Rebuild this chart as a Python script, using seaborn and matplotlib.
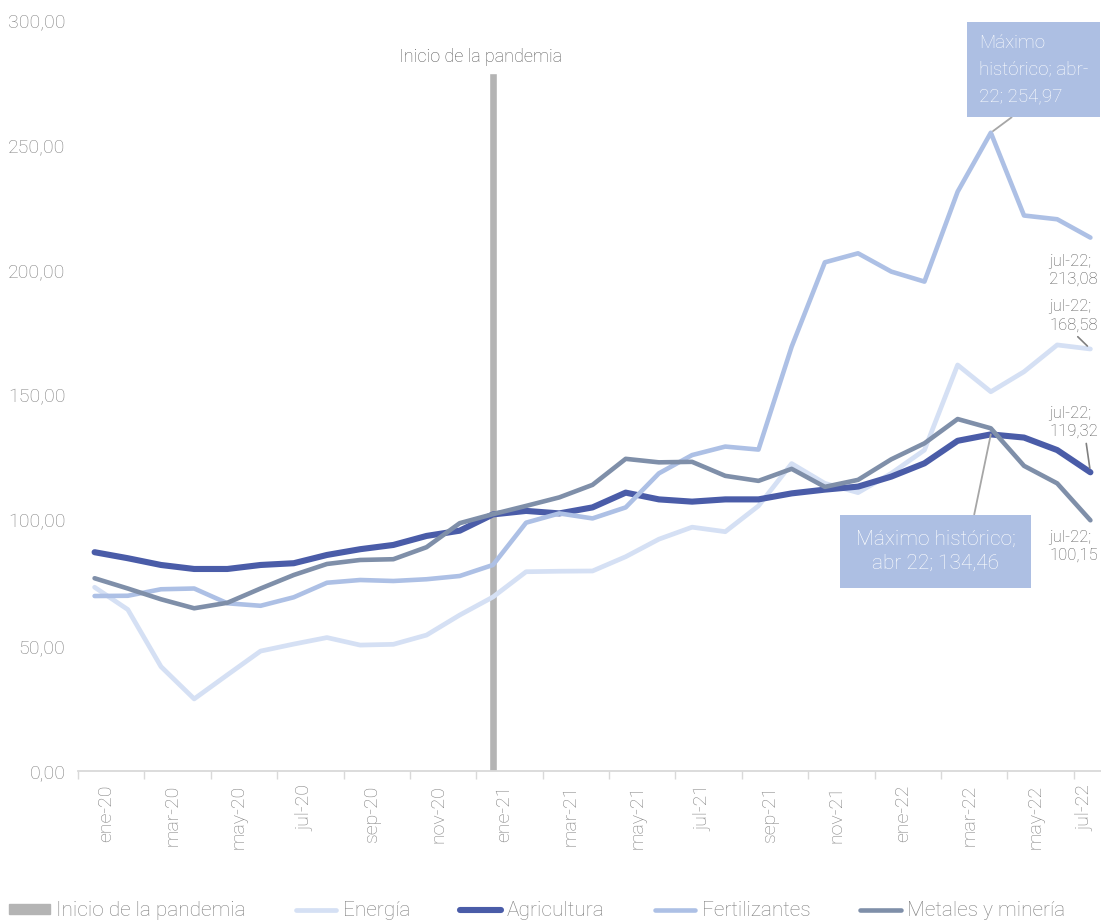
import pandas as pd
import matplotlib.pyplot as plt
import seaborn as sns
from matplotlib.ticker import FuncFormatter, FixedLocator
from matplotlib.patches import Patch

# Monthly index values, ene-20 .. jul-22
months = ['ene-20', 'feb-20', 'mar-20', 'abr-20', 'may-20', 'jun-20', 'jul-20', 'ago-20',
          'sep-20', 'oct-20', 'nov-20', 'dic-20', 'ene-21', 'feb-21', 'mar-21', 'abr-21',
          'may-21', 'jun-21', 'jul-21', 'ago-21', 'sep-21', 'oct-21', 'nov-21', 'dic-21',
          'ene-22', 'feb-22', 'mar-22', 'abr-22', 'may-22', 'jun-22', 'jul-22']

energia = [73.4, 64.5, 41.7, 28.8, 38.4, 47.9, 50.7, 53.3, 50.3, 50.6, 54.3, 62.3,
           69.5, 79.6, 79.8, 79.9, 85.6, 92.6, 97.4, 95.6, 105.9, 122.8, 114.9, 111.2,
           118.9, 128.2, 162.2, 151.5, 159.5, 170.2, 168.58]
agricultura = [87.4, 85.0, 82.3, 80.7, 80.7, 82.3, 83.0, 86.3, 88.6, 90.3, 93.9, 96.0,
               102.5, 103.9, 102.9, 105.3, 111.2, 108.5, 107.6, 108.5, 108.5, 110.9, 112.4, 113.6,
               117.6, 122.9, 131.9, 134.46, 133.2, 128.2, 119.32]
fertilizantes = [69.9, 70.0, 72.6, 72.9, 67.0, 66.0, 69.4, 75.2, 76.3, 75.9, 76.6, 77.9,
                 82.3, 99.2, 102.9, 100.9, 105.3, 118.9, 126.2, 129.6, 128.4, 169.5, 203.2, 206.8,
                 199.5, 195.5, 231.4, 254.97, 221.9, 220.4, 213.08]
metales = [77.0, 72.9, 68.6, 65.0, 67.2, 72.9, 78.3, 82.7, 84.3, 84.6, 89.4, 99.0,
           102.6, 105.9, 109.3, 114.3, 124.7, 123.3, 123.5, 117.9, 115.9, 120.7, 113.5, 116.3,
           124.5, 130.9, 140.6, 136.9, 121.9, 114.9, 100.15]

pandemia_mes = 'ene-21'
pandemia_valor = 279

series = {
    'Energía': energia,
    'Agricultura': agricultura,
    'Fertilizantes': fertilizantes,
    'Metales y minería': metales,
}
colors = {
    'Energía': '#d5e0f4',
    'Agricultura': '#4a5ca8',
    'Fertilizantes': '#adc0e5',
    'Metales y minería': '#7f8fa9',
}
widths = {'Energía': 3.4, 'Agricultura': 4.4, 'Fertilizantes': 3.3, 'Metales y minería': 3.3}

sns.set_theme(style='white')
plt.rcParams['font.family'] = ['Roboto', 'DejaVu Sans']
plt.rcParams['font.weight'] = 'light'

txt_gray = '#7f7f7f'
lbl_gray = '#595959'
box_col = '#adbfe3'

fig = plt.figure(figsize=(11.01, 9.22), dpi=100)
ax = fig.add_axes([78 / 1101, 151 / 922, 1029 / 1101, 751 / 922])

x = list(range(len(months)))
pi = months.index(pandemia_mes)
ax.bar([pi], [pandemia_valor], width=0.23, color='#b4b4b4', zorder=1)

for name, vals in series.items():
    df = pd.DataFrame({'x': x, 'y': vals})
    sns.lineplot(data=df, x='x', y='y', ax=ax, color=colors[name], linewidth=widths[name],
                 solid_capstyle='round', solid_joinstyle='round', zorder=2, label=name)

ax.set_xlim(-0.5, 30.5)
ax.set_ylim(0, 300)
ax.set_yticks(range(0, 301, 50))
ax.yaxis.set_major_formatter(FuncFormatter(lambda v, p: f'{v:.2f}'.replace('.', ',')))
ax.tick_params(axis='y', length=0, pad=9, labelsize=14, labelcolor=txt_gray)

# x labels every two months, tick marks between categories
lab_idx = list(range(0, len(months), 2))
lab_pos = [i + 0.35 if i < 30 else 29.85 for i in lab_idx]
ax.xaxis.set_major_locator(FixedLocator(lab_pos))
ax.set_xticklabels([months[i] for i in lab_idx], rotation=90, va='top')
ax.xaxis.set_minor_locator(FixedLocator([i - 0.5 for i in lab_idx]))
ax.tick_params(axis='x', which='major', length=0, pad=10, labelsize=14, labelcolor=txt_gray)
ax.tick_params(axis='x', which='minor', length=6, width=1, color='#d9d9d9', bottom=True)
ax.set_xlabel('')
ax.set_ylabel('')

for s in ['top', 'right', 'left']:
    ax.spines[s].set_visible(False)
ax.spines['bottom'].set_color('#d9d9d9')
ax.spines['bottom'].set_linewidth(1.3)

# annotations
ax.annotate('Inicio de la pandemia', xy=(pi, pandemia_valor), xytext=(-12, 16),
            textcoords='offset pixels', ha='center', va='center', fontsize=13, color=lbl_gray)

fi = fertilizantes.index(max(fertilizantes))
ax.annotate('Máximo\nhistórico; abr-\n22; ' + f'{fertilizantes[fi]:.2f}'.replace('.', ','),
            xy=(fi, fertilizantes[fi]), xytext=(-12, 63), textcoords='offset pixels',
            ha='left', va='center', fontsize=13.5, color='white', linespacing=1.6,
            bbox=dict(boxstyle='square,pad=0.65', fc=box_col, ec='none'),
            arrowprops=dict(arrowstyle='-', color='#a6a6a6', lw=1.3, shrinkA=0, shrinkB=2,
                            relpos=(0.45, 0)))

ai = agricultura.index(max(agricultura))
ax.annotate('Máximo histórico;\nabr 22; ' + f'{agricultura[ai]:.2f}'.replace('.', ','),
            xy=(ai, agricultura[ai]), xytext=(-55, -117), textcoords='offset pixels',
            ha='center', va='center', fontsize=15, color='white', linespacing=1.3,
            bbox=dict(boxstyle='square,pad=0.75', fc=box_col, ec='none'),
            arrowprops=dict(arrowstyle='-', color='#a6a6a6', lw=1.3, shrinkA=0, shrinkB=0,
                            relpos=(0.72, 1)))

last = len(months) - 1
end_labels = [
    (fertilizantes, (-17, -33), None),
    (energia, (-17, 33), (0.5, 0)),
    (agricultura, (-17, 50), (0.75, 0)),
    (metales, (-17, -26), None),
]
for vals, off, rel in end_labels:
    txt = f'{months[last]};\n' + f'{vals[last]:.2f}'.replace('.', ',')
    kw = dict(xy=(last, vals[last]), xytext=off, textcoords='offset pixels',
              ha='center', va='center', fontsize=12, color=lbl_gray, linespacing=1.25,
              multialignment='left')
    if rel is not None:
        kw['arrowprops'] = dict(arrowstyle='-', color='#808080', lw=1.2, shrinkA=1, shrinkB=3,
                                relpos=rel)
    ax.annotate(txt, **kw)

# legend
ax.get_legend().remove()
handles, labels = ax.get_legend_handles_labels()
handles = [Patch(color='#b4b4b4')] + handles
labels = ['Inicio de la pandemia'] + labels
leg = fig.legend(handles, labels, loc='center', bbox_to_anchor=(0.488, 0.012), ncol=5,
                 frameon=False, fontsize=15, handlelength=1.95, handleheight=0.42,
                 handletextpad=0.3, columnspacing=2.4)
for t in leg.get_texts():
    t.set_color(txt_gray)

fig.savefig('out.png', dpi=100)
